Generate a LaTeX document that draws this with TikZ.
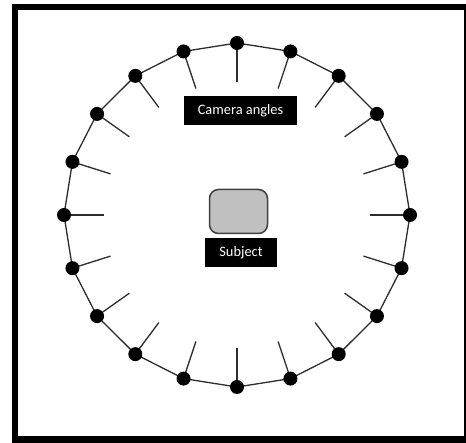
\documentclass[tikz,border=0pt]{standalone}
\usepackage{fontspec}
\setmainfont{Carlito}
\usetikzlibrary{positioning,backgrounds}
\definecolor{subjectgray}{RGB}{192,192,192}
\definecolor{edgegray}{RGB}{64,64,64}
\definecolor{linegray}{RGB}{45,45,45}

\begin{document}
\begin{tikzpicture}[x=1pt, y=-1pt,
  camdot/.style={circle, fill=black, minimum size=14pt, inner sep=0pt},
  labelbox/.style={fill=black, text=white, font=\fontsize{14.4}{17}\selectfont, minimum height=29pt, inner sep=0pt},
  ring/.style={draw=linegray, line width=1.3pt}]
\useasboundingbox (0,0) rectangle (466,443);
% frame
\begin{scope}[on background layer]
\fill[black] (12,4) rectangle (466,443);
\fill[white] (18,10) rectangle (464.3,436);
\end{scope}
% cameras round the subject
\foreach \i in {0,...,19}{
  \node[camdot] (cam\i) at ({237+173*cos(90+18*\i)},{215-172*sin(90+18*\i)}) {};
  \coordinate (tip\i) at ({237+133*cos(90+18*\i)},{215-133*sin(90+18*\i)});
}
\begin{scope}[on background layer]
\foreach \i [evaluate=\i as \j using {int(mod(\i+1,20))}] in {0,...,19}{
  \draw[ring] (cam\i.center) -- (cam\j.center);
  \draw[ring] (cam\i.center) -- (tip\i);
}
\end{scope}
% subject and labels
\node[draw=edgegray, line width=1.5pt, fill=subjectgray, rounded corners=9pt, minimum width=58pt, minimum height=44pt] (subject) at (238.5,211.5) {};
\node[labelbox, minimum width=72pt, below=4pt of subject, xshift=2.5pt] (subjlabel) {Subject};
\node[labelbox, minimum width=113pt] (camlabel) at (240.5,110.5) {Camera angles};
\end{tikzpicture}
\end{document}
